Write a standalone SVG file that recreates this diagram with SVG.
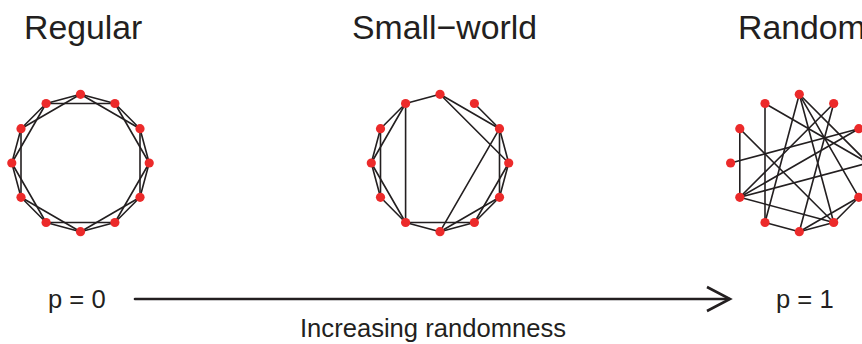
<svg xmlns="http://www.w3.org/2000/svg" width="862" height="344" viewBox="0 0 862 344">
<style>
.t{font-family:"Liberation Sans",Arial,sans-serif;fill:#231f20}
.h{font-size:33.8px}
.s{font-size:25.6px}
.e line{stroke:#231f20;stroke-width:1.6;stroke-linecap:round}
.n{fill:#ec2a2a}
</style>
<rect width="862" height="344" fill="#fff"/>
<text class="t h" x="24" y="39">Regular</text>
<text class="t h" x="352" y="39">Small−world</text>
<text class="t h" x="738" y="39">Random</text>
<g id="connectors" class="e">
<g id="regular-edges">
<line x1="80.5" y1="94.3" x2="114.9" y2="103.5"/>
<line x1="114.9" y1="103.5" x2="140" y2="128.7"/>
<line x1="140" y1="128.7" x2="149.2" y2="163"/>
<line x1="149.2" y1="163" x2="140" y2="197.3"/>
<line x1="140" y1="197.3" x2="114.9" y2="222.5"/>
<line x1="114.9" y1="222.5" x2="80.5" y2="231.7"/>
<line x1="80.5" y1="231.7" x2="46.1" y2="222.5"/>
<line x1="46.1" y1="222.5" x2="21" y2="197.3"/>
<line x1="21" y1="197.3" x2="11.8" y2="163"/>
<line x1="11.8" y1="163" x2="21" y2="128.7"/>
<line x1="21" y1="128.7" x2="46.1" y2="103.5"/>
<line x1="46.1" y1="103.5" x2="80.5" y2="94.3"/>
<line x1="80.5" y1="94.3" x2="140" y2="128.7"/>
<line x1="114.9" y1="103.5" x2="149.2" y2="163"/>
<line x1="140" y1="128.7" x2="140" y2="197.3"/>
<line x1="149.2" y1="163" x2="114.9" y2="222.5"/>
<line x1="140" y1="197.3" x2="80.5" y2="231.7"/>
<line x1="114.9" y1="222.5" x2="46.1" y2="222.5"/>
<line x1="80.5" y1="231.7" x2="21" y2="197.3"/>
<line x1="46.1" y1="222.5" x2="11.8" y2="163"/>
<line x1="21" y1="197.3" x2="21" y2="128.7"/>
<line x1="11.8" y1="163" x2="46.1" y2="103.5"/>
<line x1="21" y1="128.7" x2="80.5" y2="94.3"/>
<line x1="46.1" y1="103.5" x2="114.9" y2="103.5"/>
</g>
<g id="smallworld-edges">
<line x1="405.6" y1="103.5" x2="440" y2="94.3"/>
<line x1="440" y1="94.3" x2="499.5" y2="128.7"/>
<line x1="440" y1="94.3" x2="508.7" y2="163"/>
<line x1="474.4" y1="103.5" x2="499.5" y2="128.7"/>
<line x1="499.5" y1="128.7" x2="508.7" y2="163"/>
<line x1="499.5" y1="128.7" x2="499.5" y2="197.3"/>
<line x1="499.5" y1="128.7" x2="440" y2="231.7"/>
<line x1="508.7" y1="163" x2="499.5" y2="197.3"/>
<line x1="508.7" y1="163" x2="474.4" y2="222.5"/>
<line x1="499.5" y1="197.3" x2="474.4" y2="222.5"/>
<line x1="499.5" y1="197.3" x2="440" y2="231.7"/>
<line x1="474.4" y1="222.5" x2="440" y2="231.7"/>
<line x1="474.4" y1="222.5" x2="405.6" y2="222.5"/>
<line x1="440" y1="231.7" x2="405.6" y2="222.5"/>
<line x1="405.6" y1="222.5" x2="380.5" y2="197.3"/>
<line x1="405.6" y1="222.5" x2="371.3" y2="163"/>
<line x1="405.6" y1="222.5" x2="405.6" y2="103.5"/>
<line x1="380.5" y1="197.3" x2="371.3" y2="163"/>
<line x1="380.5" y1="197.3" x2="380.5" y2="128.7"/>
<line x1="371.3" y1="163" x2="380.5" y2="128.7"/>
<line x1="371.3" y1="163" x2="405.6" y2="103.5"/>
<line x1="380.5" y1="128.7" x2="405.6" y2="103.5"/>
</g>
<g id="random-edges">
<line x1="765" y1="103.5" x2="765" y2="222.5"/>
<line x1="739.8" y1="128.7" x2="739.8" y2="197.3"/>
<line x1="730.6" y1="163" x2="858.8" y2="128.7"/>
<line x1="739.8" y1="197.3" x2="868" y2="163"/>
<line x1="739.8" y1="197.3" x2="858.8" y2="128.7"/>
<line x1="739.8" y1="197.3" x2="833.7" y2="103.5"/>
<line x1="739.8" y1="197.3" x2="833.7" y2="222.5"/>
<line x1="765" y1="103.5" x2="868" y2="163"/>
<line x1="739.8" y1="128.7" x2="833.7" y2="222.5"/>
<line x1="799.3" y1="94.3" x2="765" y2="222.5"/>
<line x1="799.3" y1="94.3" x2="868" y2="163"/>
<line x1="799.3" y1="94.3" x2="858.8" y2="197.3"/>
<line x1="799.3" y1="94.3" x2="833.7" y2="222.5"/>
<line x1="833.7" y1="103.5" x2="799.3" y2="231.7"/>
<line x1="799.3" y1="231.7" x2="765" y2="222.5"/>
<line x1="799.3" y1="231.7" x2="833.7" y2="222.5"/>
<line x1="799.3" y1="231.7" x2="858.8" y2="197.3"/>
<line x1="833.7" y1="222.5" x2="858.8" y2="197.3"/>
</g>
<g id="arrow">
<line x1="135" y1="299" x2="729" y2="299" style="stroke-width:2.6"/>
<polyline points="707,287 730,299 707,311" fill="none" stroke="#231f20" stroke-width="2.6" stroke-linejoin="miter"/>
</g>
</g>
<g id="regular-nodes">
<g id="r0"><circle class="n" cx="80.5" cy="94.3" r="4.6"/></g>
<g id="r1"><circle class="n" cx="114.9" cy="103.5" r="4.6"/></g>
<g id="r2"><circle class="n" cx="140" cy="128.7" r="4.6"/></g>
<g id="r3"><circle class="n" cx="149.2" cy="163" r="4.6"/></g>
<g id="r4"><circle class="n" cx="140" cy="197.3" r="4.6"/></g>
<g id="r5"><circle class="n" cx="114.9" cy="222.5" r="4.6"/></g>
<g id="r6"><circle class="n" cx="80.5" cy="231.7" r="4.6"/></g>
<g id="r7"><circle class="n" cx="46.1" cy="222.5" r="4.6"/></g>
<g id="r8"><circle class="n" cx="21" cy="197.3" r="4.6"/></g>
<g id="r9"><circle class="n" cx="11.8" cy="163" r="4.6"/></g>
<g id="r10"><circle class="n" cx="21" cy="128.7" r="4.6"/></g>
<g id="r11"><circle class="n" cx="46.1" cy="103.5" r="4.6"/></g>
</g>
<g id="smallworld-nodes">
<g id="s0"><circle class="n" cx="440" cy="94.3" r="4.6"/></g>
<g id="s1"><circle class="n" cx="474.4" cy="103.5" r="4.6"/></g>
<g id="s2"><circle class="n" cx="499.5" cy="128.7" r="4.6"/></g>
<g id="s3"><circle class="n" cx="508.7" cy="163" r="4.6"/></g>
<g id="s4"><circle class="n" cx="499.5" cy="197.3" r="4.6"/></g>
<g id="s5"><circle class="n" cx="474.4" cy="222.5" r="4.6"/></g>
<g id="s6"><circle class="n" cx="440" cy="231.7" r="4.6"/></g>
<g id="s7"><circle class="n" cx="405.6" cy="222.5" r="4.6"/></g>
<g id="s8"><circle class="n" cx="380.5" cy="197.3" r="4.6"/></g>
<g id="s9"><circle class="n" cx="371.3" cy="163" r="4.6"/></g>
<g id="s10"><circle class="n" cx="380.5" cy="128.7" r="4.6"/></g>
<g id="s11"><circle class="n" cx="405.6" cy="103.5" r="4.6"/></g>
</g>
<g id="random-nodes">
<g id="q0"><circle class="n" cx="799.3" cy="94.3" r="4.6"/></g>
<g id="q1"><circle class="n" cx="833.7" cy="103.5" r="4.6"/></g>
<g id="q2"><circle class="n" cx="858.8" cy="128.7" r="4.6"/></g>
<g id="q3"><circle class="n" cx="868" cy="163" r="4.6"/></g>
<g id="q4"><circle class="n" cx="858.8" cy="197.3" r="4.6"/></g>
<g id="q5"><circle class="n" cx="833.7" cy="222.5" r="4.6"/></g>
<g id="q6"><circle class="n" cx="799.3" cy="231.7" r="4.6"/></g>
<g id="q7"><circle class="n" cx="765" cy="222.5" r="4.6"/></g>
<g id="q8"><circle class="n" cx="739.8" cy="197.3" r="4.6"/></g>
<g id="q9"><circle class="n" cx="730.6" cy="163" r="4.6"/></g>
<g id="q10"><circle class="n" cx="739.8" cy="128.7" r="4.6"/></g>
<g id="q11"><circle class="n" cx="765" cy="103.5" r="4.6"/></g>
</g>
<text class="t s" x="48" y="308">p = 0</text>
<text class="t s" x="776" y="308">p = 1</text>
<text class="t s" x="300" y="337">Increasing randomness</text>
</svg>
